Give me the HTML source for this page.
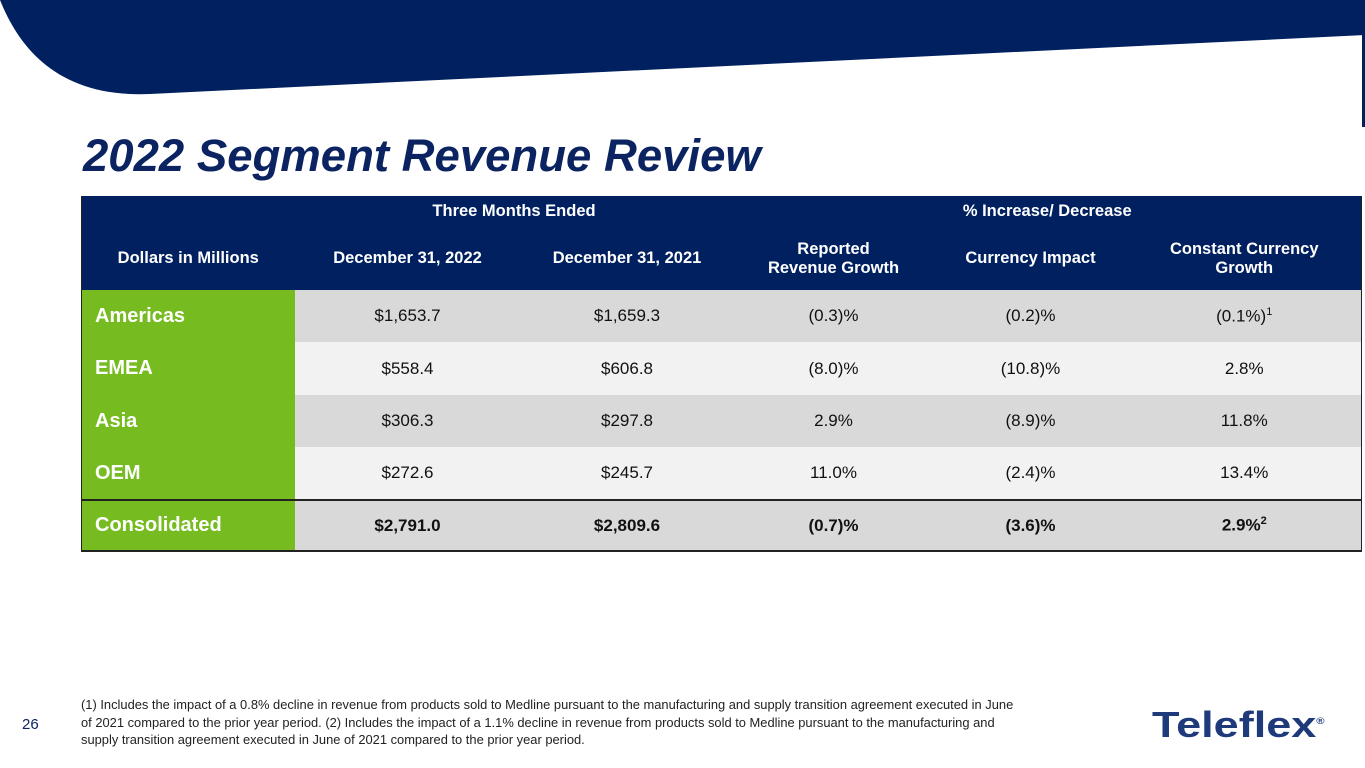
<!DOCTYPE html>
<html><head><meta charset="utf-8"><style>
body{margin:0;width:1365px;height:768px;background:#fff;position:relative;overflow:hidden;font-family:"Liberation Sans",Arial,sans-serif}
.title{position:absolute;left:83px;top:130px;font-size:45.5px;font-weight:bold;font-style:italic;color:#0b2461}
table{position:absolute;left:81px;top:196px;width:1281px;border-collapse:collapse;font-size:17px;border-left:1px solid #222;border-right:1px solid #222}
td{text-align:center;padding:0;color:#111}
.h td{background:#002060;color:#fff;font-weight:bold;font-size:16.5px}
.g{background:#76bc21!important;color:#fff!important;font-weight:bold;font-size:20px;text-align:left;padding-left:13px}
.d td{background:#d9d9d9}.l td{background:#f2f2f2}
sup{font-size:11px}
.fn{position:absolute;left:81px;top:696px;font-size:12.9px;line-height:17.5px;color:#222;width:1000px;white-space:nowrap}
.pg{position:absolute;left:22px;top:716px;font-size:15px;color:#0b2461}
.logo{position:absolute;left:1152px;top:704px;font-size:36px;font-weight:900;color:#1f3a7a;transform:scaleX(1.25);transform-origin:left}
</style></head><body>
<svg width="1365" height="130" style="position:absolute;left:0;top:0">
<path d="M0,0 L1365,0 L1365,35 L150,94 C60,98 20,50 0,0Z" fill="#002060"/>
<rect x="1362" y="35" width="3" height="92" fill="#002060"/>
</svg>
<div class="title">2022 Segment Revenue Review</div>
<table>
<col style="width:213px"><col style="width:226px"><col style="width:213px"><col style="width:200px"><col style="width:194px"><col>
<tr class="h" style="height:31px"><td></td><td colspan="2">Three Months Ended</td><td colspan="3">% Increase/ Decrease</td></tr>
<tr class="h" style="height:63px"><td>Dollars in Millions</td><td>December 31, 2022</td><td>December 31, 2021</td><td>Reported<br>Revenue Growth</td><td>Currency Impact</td><td>Constant Currency<br>Growth</td></tr>
<tr class="d" style="height:52px"><td class="g">Americas</td><td>$1,653.7</td><td>$1,659.3</td><td>(0.3)%</td><td>(0.2)%</td><td>(0.1%)<sup>1</sup></td></tr>
<tr class="l" style="height:53px"><td class="g">EMEA</td><td>$558.4</td><td>$606.8</td><td>(8.0)%</td><td>(10.8)%</td><td>2.8%</td></tr>
<tr class="d" style="height:52px"><td class="g">Asia</td><td>$306.3</td><td>$297.8</td><td>2.9%</td><td>(8.9)%</td><td>11.8%</td></tr>
<tr class="l" style="height:53px"><td class="g">OEM</td><td>$272.6</td><td>$245.7</td><td>11.0%</td><td>(2.4)%</td><td>13.4%</td></tr>
<tr class="d" style="height:51px;font-weight:bold;border-top:2px solid #222;border-bottom:2px solid #222"><td class="g">Consolidated</td><td>$2,791.0</td><td>$2,809.6</td><td>(0.7)%</td><td>(3.6)%</td><td>2.9%<sup>2</sup></td></tr>
</table>
<div class="pg">26</div>
<div class="fn">(1) Includes the impact of a 0.8% decline in revenue from products sold to Medline pursuant to the manufacturing and supply transition agreement executed in June<br>of 2021 compared to the prior year period. (2) Includes the impact of a 1.1% decline in revenue from products sold to Medline pursuant to the manufacturing and<br>supply transition agreement executed in June of 2021 compared to the prior year period.</div>
<div class="logo">Teleflex<sup style="font-size:9px">®</sup></div>
</body></html>
